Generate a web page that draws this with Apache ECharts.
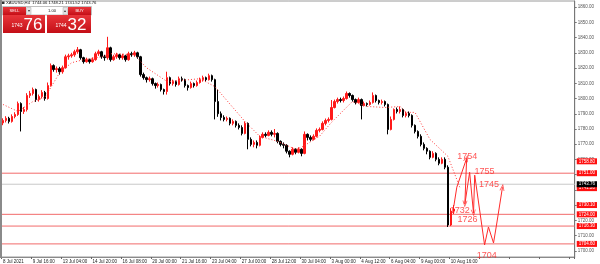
<!DOCTYPE html>
<html><head><meta charset="utf-8">
<script src="https://cdn.jsdelivr.net/npm/echarts@6/dist/echarts.min.js"></script>
<style>html,body{margin:0;padding:0;background:#fff}#c{width:600px;height:264px}</style>
</head><body><div id="c"></div>
<script>
const symbolTitle = 'XAUUSD,H4  1744.06 1748.21 1741.52 1743.76';
const tickLabels = ['8 Jul 2021','9 Jul 16:00','13 Jul 04:00','14 Jul 20:00','16 Jul 08:00','20 Jul 00:00','21 Jul 16:00','23 Jul 04:00','27 Jul 00:00','28 Jul 12:00','30 Jul 04:00','3 Aug 00:00','4 Aug 12:00','6 Aug 04:00','9 Aug 00:00','10 Aug 16:00'];
const priceTicks = [1700,1710,1720,1730,1740,1750,1760,1770,1780,1790,1800,1810,1820,1830,1840,1850,1860];

const opens = [1784.0,1785.6,1787.0,1785.0,1788.2,1789.5,1796.7,1791.5,1792.8,1802.0,1803.3,1805.9,1799.3,1801.3,1804.0,1800.0,1808.5,1821.6,1819.0,1819.6,1817.6,1820.2,1827.4,1828.0,1828.7,1830.7,1832.0,1826.8,1824.2,1825.5,1824.2,1825.5,1829.4,1830.7,1827.4,1826.8,1833.3,1825.5,1827.4,1828.7,1826.8,1828.0,1825.5,1829.4,1828.7,1830.0,1827.4,1815.7,1813.7,1812.4,1813.0,1809.8,1808.5,1809.2,1805.9,1804.6,1813.7,1809.8,1811.1,1809.2,1813.0,1812.4,1808.5,1807.2,1809.8,1808.5,1810.5,1812.4,1813.7,1812.4,1815.0,1812.4,1798.0,1790.0,1787.6,1786.3,1787.0,1783.7,1785.0,1782.4,1781.0,1777.1,1783.7,1773.2,1769.9,1771.2,1769.3,1774.5,1776.5,1775.8,1777.8,1776.5,1777.1,1771.9,1769.9,1769.3,1765.4,1763.4,1766.7,1764.7,1766.7,1764.0,1776.5,1774.5,1773.2,1775.2,1779.1,1779.7,1783.7,1785.6,1786.3,1794.1,1798.0,1799.3,1798.7,1800.0,1803.3,1802.0,1799.3,1797.4,1799.3,1795.4,1796.7,1796.1,1797.4,1802.0,1798.7,1797.4,1798.0,1796.1,1779.7,1786.3,1792.8,1791.5,1792.8,1788.9,1790.2,1788.9,1782.4,1778.4,1775.2,1769.9,1767.3,1765.4,1761.4,1764.0,1760.1,1757.5,1760.1,1754.9,1717.0,1726.1];
const closes = [1785.6,1787.0,1785.0,1788.2,1789.5,1796.7,1791.5,1792.8,1802.0,1803.3,1805.9,1799.3,1801.3,1804.0,1800.0,1808.5,1821.6,1819.0,1819.6,1817.6,1820.2,1827.4,1828.0,1828.7,1830.7,1832.0,1826.8,1824.2,1825.5,1824.2,1825.5,1829.4,1830.7,1827.4,1826.8,1833.3,1825.5,1827.4,1828.7,1826.8,1828.0,1825.5,1829.4,1828.7,1830.0,1827.4,1815.7,1813.7,1812.4,1813.0,1809.8,1808.5,1809.2,1805.9,1804.6,1813.7,1809.8,1811.1,1809.2,1813.0,1812.4,1808.5,1807.2,1809.8,1808.5,1810.5,1812.4,1813.7,1812.4,1815.0,1812.4,1798.0,1790.0,1787.6,1786.3,1787.0,1783.7,1785.0,1782.4,1781.0,1777.1,1783.7,1773.2,1769.9,1771.2,1769.3,1774.5,1776.5,1775.8,1777.8,1776.5,1777.1,1771.9,1769.9,1769.3,1765.4,1763.4,1766.7,1764.7,1766.7,1764.0,1776.5,1774.5,1773.2,1775.2,1779.1,1779.7,1783.7,1785.6,1786.3,1794.1,1798.0,1799.3,1798.7,1800.0,1803.3,1802.0,1799.3,1797.4,1799.3,1795.4,1796.7,1796.1,1797.4,1802.0,1798.7,1797.4,1798.0,1796.1,1779.7,1786.3,1792.8,1791.5,1792.8,1788.9,1790.2,1788.9,1782.4,1778.4,1775.2,1769.9,1767.3,1765.4,1761.4,1764.0,1760.1,1757.5,1760.1,1754.9,1717.0,1726.1,1727.5];
const lows = [1782.5,1784.3,1783.6,1784.2,1787.0,1788.6,1778.4,1789.9,1791.5,1800.4,1802.0,1797.8,1798.0,1800.0,1798.6,1799.3,1807.8,1817.6,1817.0,1815.7,1816.3,1819.6,1825.5,1826.8,1827.4,1829.4,1825.5,1822.9,1823.5,1822.9,1823.5,1824.8,1828.0,1826.1,1824.8,1825.5,1824.2,1824.8,1826.1,1825.5,1825.5,1824.2,1824.8,1827.4,1827.4,1826.1,1814.4,1812.4,1810.5,1811.1,1808.5,1806.5,1807.2,1804.6,1802.6,1802.6,1808.5,1808.5,1807.8,1808.5,1811.1,1807.2,1805.2,1806.5,1807.2,1807.8,1809.8,1811.1,1811.1,1811.8,1811.1,1786.3,1788.0,1785.6,1785.0,1785.0,1782.4,1782.4,1781.0,1779.7,1775.8,1776.5,1766.7,1768.6,1768.0,1767.3,1768.6,1773.8,1774.5,1775.2,1775.2,1774.5,1770.6,1768.6,1767.3,1764.0,1761.4,1762.7,1763.4,1764.0,1762.1,1763.4,1772.5,1771.9,1772.5,1774.5,1777.8,1779.1,1782.4,1784.3,1785.6,1793.5,1796.7,1797.4,1797.4,1799.3,1800.6,1798.0,1796.1,1796.7,1786.3,1794.8,1794.8,1795.4,1796.7,1797.4,1796.1,1796.1,1794.8,1776.5,1779.1,1785.6,1790.2,1790.2,1787.6,1787.6,1787.6,1781.0,1777.1,1773.8,1768.6,1766.0,1763.4,1760.1,1760.8,1758.8,1756.2,1756.9,1753.6,1715.7,1716.3,1724.2];
const highs = [1787.0,1788.4,1788.0,1789.6,1791.0,1798.0,1797.5,1794.4,1803.5,1805.0,1807.2,1806.5,1802.6,1805.5,1805.0,1810.5,1823.0,1822.4,1821.0,1820.8,1821.6,1828.8,1829.4,1830.0,1832.0,1833.8,1832.6,1827.4,1826.8,1826.2,1827.0,1830.7,1832.0,1831.3,1828.7,1840.5,1834.0,1828.7,1830.0,1829.4,1829.4,1828.7,1830.7,1830.7,1831.3,1830.7,1828.0,1817.0,1814.4,1814.4,1813.7,1810.5,1810.5,1809.8,1806.5,1817.6,1814.4,1812.4,1811.8,1814.4,1814.4,1813.0,1809.2,1811.1,1810.5,1811.8,1813.7,1815.0,1814.4,1816.3,1815.7,1813.0,1805.9,1791.5,1789.0,1788.2,1787.6,1786.3,1785.6,1783.7,1782.4,1785.0,1784.3,1774.5,1772.5,1772.5,1775.8,1777.8,1777.8,1779.1,1779.1,1780.0,1777.8,1772.5,1771.2,1770.0,1766.0,1768.0,1767.3,1768.0,1767.3,1778.4,1777.1,1775.8,1776.5,1780.4,1781.0,1785.0,1786.9,1787.6,1799.0,1799.3,1800.6,1800.6,1801.3,1804.6,1804.0,1802.6,1800.0,1800.6,1800.0,1798.0,1797.4,1798.7,1804.0,1802.6,1799.3,1799.3,1798.7,1796.7,1788.2,1793.5,1794.1,1794.8,1793.5,1791.5,1791.5,1789.6,1783.0,1779.1,1776.5,1771.2,1768.0,1766.0,1765.4,1764.7,1761.4,1761.4,1761.4,1756.2,1728.0,1730.1];

const maLine = [[0,1796.1],[5,1791.5],[6,1792.8],[10,1798.0],[14,1800.7],[19,1817.0],[23,1823.5],[27,1825.5],[33,1827.4],[36,1829.4],[44,1828.8],[48,1820.3],[55,1811.1],[66,1813.0],[71,1807.8],[81,1785.0],[86,1775.2],[92,1771.9],[98,1766.7],[100,1768.0],[106,1775.2],[110,1784.3],[115,1794.1],[117,1798.0],[122,1794.8],[128,1794.1],[133,1794.8],[135,1790.9],[138,1790.9],[143,1773.2],[149,1762.1],[153,1741.8]];

const levelLines = [1751.0, 1724.0, 1716.3, 1704.6];
const levelLabels = [1758.8, 1751.0, 1741.2, 1730.1, 1724.0, 1716.3, 1704.6];
const bidPrice = 1743.76;
const askPrice = 1744.32;
const lotSize = '1.00';

const projX = [151.0, 152.0, 155.3, 154.7, 156.3, 157.6, 158.0, 161.3, 162.6, 164.3, 165.3, 167.3];
const projY = [1729.4, 1741.8, 1760.8, 1730.7, 1751.6, 1724.8, 1749.7, 1703.9, 1715.7, 1705.2, 1717.0, 1741.8];
const arrowAt = [2, 3, 5, 11];

const annTexts = ['1754', '1755', '1745', '1732', '1726', '1704'];
const annX = [155.5, 161.3, 162.8, 153.0, 155.6, 162.0];
const annY = [1762.0, 1752.0, 1743.3, 1726.8, 1720.3, 1697.3];

const slotCount = 192;

const categories = Array.from({length: slotCount}, (_, i) => (i % 10 === 0 && tickLabels[i / 10]) ? tickLabels[i / 10] : '');
const candleData = opens.map((o, i) => [o, closes[i], lows[i], highs[i]]);
const projData = projX.map((x, i) => [x, projY[i]]);
const annData = annTexts.map((t, i) => ({name: t, value: [annX[i], annY[i]]}));

const RED = '#ff2a2a';
const FONT = 'Liberation Sans, Arial, sans-serif';
const yMin = 1696, yMax = 1864;
const xLo = -0.5, xHi = slotCount - 0.5;

const chart = echarts.init(document.getElementById('c'), null, {renderer: 'canvas'});

const bidParts = bidPrice.toFixed(2).split('.');
const askParts = askPrice.toFixed(2).split('.');
const redGrad = () => new echarts.graphic.LinearGradient(0, 0, 0, 1, [{offset: 0, color: '#e8353a'}, {offset: 1, color: '#c40f17'}]);

const yBase = {type: 'value', position: 'right', min: yMin, max: yMax, scale: true, splitLine: {show: false}};

const hLine = (v, color) => ({type: 'line', xAxisIndex: 1, yAxisIndex: 0, data: [[xLo, v], [xHi, v]], symbol: 'none', silent: true, z: 1,
  lineStyle: {color: color, width: 1, type: 'solid'}});

chart.setOption({
  animation: false,
  backgroundColor: '#fff',
  grid: {left: 1, right: 21, top: 1, bottom: 6, show: true, borderColor: '#9a9a9a', borderWidth: 1, backgroundColor: '#fff'},
  xAxis: [
    {type: 'category', data: categories, boundaryGap: true,
     axisLine: {show: true, onZero: false, lineStyle: {color: '#8a8a8a'}},
     axisTick: {show: true, interval: 9, length: 2, lineStyle: {color: '#666'}},
     axisLabel: {interval: 9, align: 'left', fontSize: 4.5, color: '#222', margin: 2, fontFamily: FONT},
     splitLine: {show: false}},
    {type: 'value', min: xLo, max: xHi, show: false, axisLine: {show: false, onZero: false}, splitLine: {show: false}}
  ],
  yAxis: [
    Object.assign({}, yBase, {
      axisLine: {show: true, onZero: false, lineStyle: {color: '#777'}},
      axisTick: {show: true, length: 2, customValues: priceTicks, lineStyle: {color: '#777'}},
      axisLabel: {customValues: priceTicks, formatter: v => v.toFixed(2), fontSize: 4.5, color: '#555', margin: 3, fontFamily: FONT}
    }),
    Object.assign({}, yBase, {
      axisLine: {show: false, onZero: false}, axisTick: {show: false},
      axisLabel: {customValues: levelLabels, formatter: v => v.toFixed(2), fontSize: 4.5, color: '#fff', backgroundColor: '#ff1010', padding: [0.5, 2], margin: 2, fontFamily: FONT}
    }),
    Object.assign({}, yBase, {
      axisLine: {show: false, onZero: false}, axisTick: {show: false},
      axisLabel: {customValues: [bidPrice], formatter: v => v.toFixed(2), fontSize: 4.5, color: '#fff', backgroundColor: '#000', padding: [0.5, 2], margin: 2, fontFamily: FONT}
    })
  ],
  series: levelLines.map(v => hLine(v, '#f26b6b')).concat([hLine(bidPrice, '#c8c8c8')]).concat([
    {type: 'candlestick', xAxisIndex: 0, yAxisIndex: 0, data: candleData, barWidth: 2, z: 3,
     itemStyle: {color: '#ff1a1a', color0: '#000', borderColor: '#ff1a1a', borderColor0: '#000', borderWidth: 1}},
    {type: 'line', xAxisIndex: 1, yAxisIndex: 0, data: maLine, symbol: 'none', silent: true, z: 4,
     lineStyle: {color: '#ff3a3a', width: 1, type: [1, 2]}},
    {type: 'line', xAxisIndex: 1, yAxisIndex: 0, data: projData, symbol: 'none', silent: true, z: 4,
     lineStyle: {color: RED, width: 1}},
    {type: 'scatter', id: 'arrows', xAxisIndex: 1, yAxisIndex: 0, silent: true, z: 5,
     data: arrowAt.map(k => projData[k]),
     symbol: 'path://M0,10L5,0L10,10L8.4,10L5,3.2L1.6,10Z', symbolSize: [5, 7],
     itemStyle: {color: RED}},
    {type: 'scatter', xAxisIndex: 1, yAxisIndex: 0, data: annData, symbolSize: 0, silent: true, z: 5,
     label: {show: true, position: 'inside', formatter: p => p.name, fontSize: 9, color: RED, fontFamily: FONT}}
  ]),
  graphic: [
    {type: 'rect', shape: {x: 0, y: 0, width: 2, height: 258}, style: {fill: '#8a8a8a'}, z: 100},
    {type: 'rect', shape: {x: 2, y: 1.5, width: 2.5, height: 2.5}, style: {fill: '#333'}, z: 100},
    {type: 'text', x: 6, y: 0.8, z: 100, style: {text: symbolTitle, fontSize: 4.2, fontFamily: FONT, fill: '#111', textVerticalAlign: 'top'}},
    {type: 'rect', shape: {x: 2.5, y: 6.5, width: 89, height: 8.5}, style: {fill: '#fff', stroke: '#b0b0b0', lineWidth: 0.8}, z: 100},
    {type: 'rect', shape: {x: 3, y: 7, width: 23, height: 8}, style: {fill: redGrad()}, z: 101},
    {type: 'text', x: 14.5, y: 11, z: 102, style: {text: 'SELL', fontSize: 4, fontFamily: FONT, fill: '#fff', textAlign: 'center', textVerticalAlign: 'middle'}},
    {type: 'rect', shape: {x: 26.5, y: 7.5, width: 4.5, height: 7}, style: {fill: '#e4e4e4', stroke: '#aaa', lineWidth: 0.5}, z: 101},
    {type: 'text', x: 28.7, y: 11, z: 102, style: {text: '▾', fontSize: 4, fill: '#333', textAlign: 'center', textVerticalAlign: 'middle'}},
    {type: 'text', x: 52, y: 11, z: 102, style: {text: lotSize, fontSize: 4.2, fontFamily: FONT, fill: '#222', textAlign: 'center', textVerticalAlign: 'middle'}},
    {type: 'rect', shape: {x: 63, y: 7.5, width: 4.5, height: 7}, style: {fill: '#e4e4e4', stroke: '#aaa', lineWidth: 0.5}, z: 101},
    {type: 'text', x: 65.2, y: 11, z: 102, style: {text: '▴', fontSize: 4, fill: '#333', textAlign: 'center', textVerticalAlign: 'middle'}},
    {type: 'rect', shape: {x: 68, y: 7, width: 23, height: 8}, style: {fill: redGrad()}, z: 101},
    {type: 'text', x: 79.5, y: 11, z: 102, style: {text: 'BUY', fontSize: 4, fontFamily: FONT, fill: '#fff', textAlign: 'center', textVerticalAlign: 'middle'}},
    {type: 'rect', shape: {x: 3, y: 15, width: 42, height: 18}, style: {fill: redGrad()}, z: 101},
    {type: 'text', x: 22.5, y: 23.5, z: 102, style: {text: bidParts[0], fontSize: 5, fontFamily: FONT, fill: '#fff', textAlign: 'right', textVerticalAlign: 'top'}},
    {type: 'text', x: 23.5, y: 16.5, z: 102, style: {text: bidParts[1], fontSize: 17, fontFamily: FONT, fill: '#fff', textAlign: 'left', textVerticalAlign: 'top'}},
    {type: 'rect', shape: {x: 47, y: 15, width: 44, height: 18}, style: {fill: redGrad()}, z: 101},
    {type: 'text', x: 66.5, y: 23.5, z: 102, style: {text: askParts[0], fontSize: 5, fontFamily: FONT, fill: '#fff', textAlign: 'right', textVerticalAlign: 'top'}},
    {type: 'text', x: 67.5, y: 16.5, z: 102, style: {text: askParts[1], fontSize: 17, fontFamily: FONT, fill: '#fff', textAlign: 'left', textVerticalAlign: 'top'}}
  ]
});

// orient arrowheads along their incoming segment, using the chart's own scales
const arrowItems = arrowAt.map(k => {
  const a = chart.convertToPixel({xAxisIndex: 1, yAxisIndex: 0}, projData[k - 1]);
  const b = chart.convertToPixel({xAxisIndex: 1, yAxisIndex: 0}, projData[k]);
  const dx = b[0] - a[0], dy = b[1] - a[1];
  const rot = Math.atan2(-dx, -dy) * 180 / Math.PI;
  return {value: projData[k], symbolRotate: rot};
});
chart.setOption({series: [{id: 'arrows', data: arrowItems}]});
</script>
</body></html>
